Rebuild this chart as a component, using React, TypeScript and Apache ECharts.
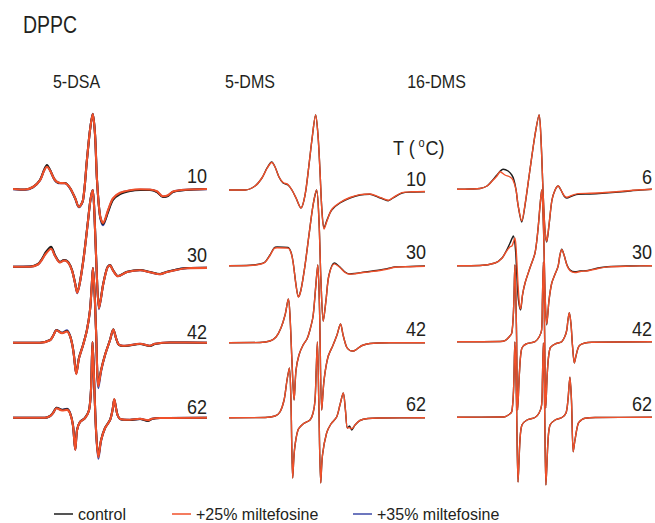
import React, { useEffect, useRef } from "react";
import * as echarts from "echarts";

type P = [number, number][];

// ---------- labels ----------
const FIGURE_TITLE = "DPPC";
const PANELS = ["5-DSA", "5-DMS", "16-DMS"];
const TEMPS = [
  ["10", "30", "42", "62"],
  ["10", "30", "42", "62"],
  ["6", "30", "42", "62"],
];
const SERIES_NAMES = ["control", "+25% miltefosine", "+35% miltefosine"];

// ---------- spectra: [field (G, 0-100 sweep), amplitude (a.u.)] ----------
// 5-DSA
const DSA_10_CTRL: P = [[0,0.3],[6.2,-0.2],[10.3,2.3],[13.9,9.3],[16.0,19.3],[17.5,24.3],[19.1,19.3],[21.6,9.3],[24.2,6.3],[26.8,6.3],[29.4,1.3],[32.0,-8.7],[34.0,-17.7],[36.1,-10.7],[38.1,29.3],[39.7,59.3],[41.1,75.3],[42.3,54.3],[43.3,9.3],[44.8,-25.7],[46.4,-34.7],[49.0,-22.7],[51.5,-10.7],[55.2,-4.7],[60.3,-1.7],[65.5,-0.7],[70.6,-0.7],[74.2,-2.7],[77.3,-7.7],[79.9,-6.7],[82.5,-2.7],[88.7,-0.7],[100,0.3]];
const DSA_10_M25: P = [[0,0.3],[6.2,-0.2],[10.3,2.3],[13.9,9.0],[16.0,18.5],[17.5,22.6],[19.1,18.8],[21.6,9.3],[24.2,6.3],[26.8,6.0],[29.4,1.3],[32.0,-8.7],[34.0,-17.7],[36.1,-10.7],[38.1,29.3],[39.7,59.3],[41.1,75.3],[42.3,54.3],[43.3,9.3],[44.8,-25.7],[46.4,-33.7],[49.0,-20.7],[51.5,-9.0],[55.2,-3.5],[60.3,-0.9],[65.5,0.0],[70.6,-0.2],[74.2,-2.0],[77.3,-7.0],[79.9,-6.0],[82.5,-2.2],[88.7,-0.4],[100,0.3]];
const DSA_10_M35: P = [[0,0.0],[6.2,-0.5],[10.3,2.0],[13.9,9.0],[16.0,18.8],[17.5,23.0],[19.1,19.0],[21.6,9.0],[24.2,6.0],[26.8,6.0],[29.4,1.0],[32.0,-9.0],[34.0,-18.0],[36.1,-11.0],[38.1,29.0],[39.7,59.5],[41.1,75.5],[42.3,54.5],[43.3,9.0],[44.8,-26.5],[46.4,-36.0],[49.0,-21.5],[51.5,-9.8],[55.2,-4.0],[60.3,-1.2],[65.5,-0.4],[70.6,-0.5],[74.2,-2.4],[77.3,-7.4],[79.9,-6.4],[82.5,-2.5],[88.7,-0.6],[100,0.0]];

const DSA_30_CTRL: P = [[0,0],[8.8,0.2],[12.9,2.7],[14.9,7.7],[17.0,14.7],[19.6,20.0],[21.6,11.7],[24.2,4.7],[26.3,6.7],[28.4,4.7],[30.4,-3.3],[32.0,-16.3],[33.1,-25.0],[34.5,-15.3],[36.6,11.7],[38.7,46.7],[39.9,66.7],[41.1,76.7],[42.0,51.7],[43.0,1.7],[44.3,-41.3],[45.4,-30.3],[46.4,-18.3],[48.5,-1.3],[50.0,1.7],[51.5,-3.3],[54.1,-9.3],[58.8,-5.0],[65.5,-3.3],[70.6,-5.3],[75.8,-7.3],[79.4,-5.0],[89.7,-1.3],[100,-1.0]];
const DSA_30_M25: P = [[0,0],[8.8,0.0],[12.9,2.2],[14.9,6.9],[17.0,13.2],[19.6,18.0],[21.6,10.9],[24.2,4.3],[26.3,6.2],[28.4,4.3],[30.4,-3.6],[32.0,-16.8],[33.1,-26.0],[34.5,-15.8],[36.6,11.2],[38.7,46.2],[39.9,66.5],[41.1,76.7],[42.0,51.7],[43.0,1.2],[44.3,-41.8],[45.4,-30.8],[46.4,-18.6],[48.5,-1.6],[50.0,1.4],[51.5,-3.6],[54.1,-9.6],[58.8,-5.3],[65.5,-3.6],[70.6,-5.6],[75.8,-7.6],[79.4,-5.3],[89.7,-1.5],[100,-1.2]];
const DSA_30_M35: P = [[0,0],[8.8,0.1],[12.9,2.4],[14.9,7.2],[17.0,13.8],[19.6,19.0],[21.6,11.2],[24.2,4.5],[26.3,6.4],[28.4,4.5],[30.4,-3.5],[32.0,-16.6],[33.1,-26.5],[34.5,-15.6],[36.6,11.4],[38.7,46.4],[39.9,66.6],[41.1,76.6],[42.0,51.6],[43.0,1.4],[44.3,-42.5],[45.4,-31.0],[46.4,-18.5],[48.5,-1.5],[50.0,1.6],[51.5,-3.5],[54.1,-9.5],[58.8,-5.2],[65.5,-3.5],[70.6,-5.5],[75.8,-7.5],[79.4,-5.2],[89.7,-1.4],[100,-1.1]];

const DSA_42_CTRL: P = [[0,0],[13.9,0],[19.1,2.7],[20.6,6.7],[22.5,12.7],[25.3,9.7],[27.8,11.7],[29.4,6.7],[30.6,-2.3],[31.4,-12.3],[32.6,-30.6],[34.0,-15.3],[36.1,-2.3],[38.1,12.7],[39.7,32.7],[40.6,57.7],[41.2,74.7],[42.0,52.7],[42.8,12.7],[44.0,-42.3],[45.4,-27.3],[47.4,-12.3],[50.0,2.7],[51.7,13.4],[53.1,4.7],[54.6,-2.3],[57.7,-3.3],[65.5,-1.3],[70.6,-3.3],[73.2,-1.3],[80.9,0.2],[100,0]];
const DSA_42_M25: P = [[0,0],[13.9,0],[19.1,2.5],[20.6,6.5],[22.5,12.5],[25.3,9.5],[27.8,11.2],[29.4,6.5],[30.6,-2.5],[31.4,-12.8],[32.6,-31.5],[34.0,-15.8],[36.1,-2.5],[38.1,12.5],[39.7,32.5],[40.6,57.5],[41.2,74.7],[42.0,52.5],[42.8,12.0],[44.0,-43.5],[45.4,-27.8],[47.4,-12.5],[50.0,2.5],[51.7,13.2],[53.1,4.5],[54.6,-2.0],[57.7,-3.0],[65.5,-1.0],[70.6,-3.0],[73.2,-1.0],[80.9,0.2],[100,0]];
const DSA_42_M35: P = [[0,0],[13.9,0],[19.1,2.6],[20.6,6.6],[22.5,12.6],[25.3,10.0],[27.8,12.4],[29.4,6.9],[30.6,-2.4],[31.4,-12.6],[32.6,-31.0],[34.0,-15.6],[36.1,-2.4],[38.1,12.6],[39.7,32.6],[40.6,57.6],[41.2,74.6],[42.0,52.6],[42.8,12.4],[44.0,-45.5],[45.4,-28.5],[47.4,-12.8],[50.0,2.6],[51.7,13.0],[53.1,4.6],[54.6,-2.1],[57.7,-3.1],[65.5,-1.1],[70.6,-3.1],[73.2,-1.1],[80.9,0.2],[100,0]];

const DSA_62_CTRL: P = [[0,0],[16.5,0],[19.1,1.7],[20.6,4.7],[22.5,10.0],[25.3,7.7],[27.8,8.7],[29.4,4.7],[30.9,-7.3],[32.1,-31.6],[33.0,-12.3],[34.5,-4.3],[37.1,-0.3],[39.2,7.7],[40.2,27.7],[41.0,75.7],[41.8,37.7],[42.8,-12.3],[44.0,-38.0],[45.4,-22.3],[47.4,-10.3],[50.0,-2.3],[51.3,7.7],[52.2,18.4],[53.1,9.7],[53.9,2.7],[55.2,-1.3],[60.3,-2.3],[65.5,-1.3],[69.6,-3.3],[71.6,-1.3],[75.8,-0.3],[100,0]];
const DSA_62_M25: P = [[0,0],[16.5,0],[19.1,1.5],[20.6,4.5],[22.5,9.5],[25.3,7.2],[27.8,7.8],[29.4,4.3],[30.9,-7.6],[32.1,-32.2],[33.0,-12.6],[34.5,-4.5],[37.1,-0.5],[39.2,7.5],[40.2,27.5],[41.0,75.7],[41.8,37.5],[42.8,-12.6],[44.0,-39.5],[45.4,-22.6],[47.4,-10.5],[50.0,-2.5],[51.3,7.5],[52.2,18.6],[53.1,9.5],[53.9,2.5],[55.2,-1.2],[60.3,-2.0],[65.5,-1.1],[69.6,-2.6],[71.6,-1.1],[75.8,-0.3],[100,0]];
const DSA_62_M35: P = [[0,0],[16.5,0],[19.1,1.6],[20.6,4.6],[22.5,9.8],[25.3,7.8],[27.8,9.0],[29.4,4.8],[30.9,-7.5],[32.1,-32.0],[33.0,-12.5],[34.5,-4.4],[37.1,-0.4],[39.2,7.6],[40.2,27.6],[41.0,75.6],[41.8,37.6],[42.8,-12.5],[44.0,-41.0],[45.4,-23.0],[47.4,-10.6],[50.0,-2.4],[51.3,7.6],[52.2,18.0],[53.1,9.6],[53.9,2.6],[55.2,-1.2],[60.3,-2.1],[65.5,-1.2],[69.6,-2.9],[71.6,-1.2],[75.8,-0.3],[100,0]];

// 5-DMS
const DMS5_10_CTRL: P = [[0,0],[8.2,0],[13.3,4],[16.8,12],[19.4,22],[21.8,28],[23.5,23],[25.5,13],[27.6,7],[30.1,5],[32.1,0],[34.2,-8],[36.7,-18],[38.8,-5],[40.8,25],[42.3,50],[44.2,75],[45.4,55],[46.4,20],[47.4,-20],[48.5,-38],[50.0,-30],[52.4,-20],[56.6,-13],[61.7,-8],[66.8,-5],[71.9,-4.3],[76.0,-7],[78.6,-9],[81.3,-10.7],[83.7,-8],[88.3,-3],[93.4,-2],[100,-1.7]];
const DMS5_10_M25: P = [[0,0],[8.2,0],[13.3,4],[16.8,12],[19.4,21.5],[21.8,27.5],[23.5,23],[25.5,13],[27.6,7.5],[30.1,5.5],[32.1,0],[34.2,-8],[36.7,-18],[38.8,-5],[40.8,25],[42.3,50],[44.2,75],[45.4,55],[46.4,20],[47.4,-21],[48.5,-39],[50.0,-31],[52.4,-19.5],[56.6,-12.5],[61.7,-7.5],[66.8,-4.6],[71.9,-4.0],[76.0,-6.6],[78.6,-8.6],[81.3,-10.3],[83.7,-7.6],[88.3,-2.6],[93.4,-1.8],[100,-1.5]];
const DMS5_30_CTRL: P = [[0,0],[10.7,0.4],[15.8,1.7],[18.4,3.7],[20.9,10.7],[23.0,17.7],[24.5,18.7],[30.1,18.2],[31.6,13.7],[32.7,3.7],[34.2,-19.3],[35.4,-31],[36.7,-24.3],[38.8,0.7],[40.8,30.7],[42.9,60.7],[44.7,75.7],[45.9,45.7],[46.9,-14.3],[48.1,-55.3],[49.5,-34.3],[51.0,-9.3],[53.8,2.7],[56.6,-1.3],[59.2,-6.3],[61.7,-8.3],[64.3,-7.8],[69.4,-6.3],[77.0,-4.3],[81.1,-2.8],[84.7,-1.3],[92.3,-0.8],[100,-0.3]];
const DMS5_30_M25: P = [[0,0],[10.7,0.2],[15.8,1.4],[18.4,3.4],[20.9,10.2],[23.0,17.2],[24.5,18.0],[30.1,17.6],[31.6,13.2],[32.7,3.4],[34.2,-19.6],[35.4,-31.3],[36.7,-24.6],[38.8,0.5],[40.8,30.5],[42.9,60.5],[44.7,75.7],[45.9,45.5],[46.9,-14.6],[48.1,-55.6],[49.5,-34.6],[51.0,-9.8],[53.8,1.8],[56.6,-1.8],[59.2,-6.8],[61.7,-8.6],[64.3,-8.0],[69.4,-6.6],[77.0,-4.8],[81.1,-3.2],[84.7,-1.6],[92.3,-1.0],[100,-0.5]];
const DMS5_42_CTRL: P = [[0,0],[15.8,0.2],[20.9,1.7],[24.0,5.7],[26.5,14.7],[28.6,27.7],[30.3,43.7],[31.1,27.7],[32.1,-17.3],[33.2,-57.3],[34.2,-27.3],[35.7,-12.3],[37.8,-2.3],[39.8,3.7],[41.3,12.7],[42.9,26.7],[44.1,52.7],[45.3,77.7],[46.2,32.7],[47.3,-67.3],[48.5,-37.3],[50.5,-14.3],[53.1,-2.3],[55.1,7.7],[56.9,18.7],[58.2,7.7],[60.0,-4.3],[61.7,-7.8],[63.3,-8.3],[65.3,-6.3],[67.9,-2.8],[71.9,-0.8],[82.1,-0.1],[100,0]];
const DMS5_62_CTRL: P = [[0,0],[18.4,0.2],[23.5,1.7],[26.0,5.7],[28.1,17.7],[29.6,37.7],[30.8,49.7],[31.6,17.7],[32.5,-60.3],[33.4,-32.3],[35.2,-12.3],[37.8,-6.3],[41.3,-2.3],[42.9,4.7],[43.9,17.7],[44.5,47.7],[45.1,75.7],[45.8,17.7],[46.8,-65.3],[47.7,-37.3],[49.8,-15.3],[52.0,-6.3],[54.9,0.7],[56.6,12.7],[58.3,24.7],[59.4,7.7],[60.4,-10.3],[61.5,-8.3],[62.6,-12.3],[64.3,-7.3],[66.8,-2.8],[70.9,-0.8],[77.0,-0.3],[100,0]];
const DMS5_62_M25: P = [[0,0],[18.4,0.2],[23.5,1.7],[26.0,5.7],[28.1,17.7],[29.6,37.7],[30.8,49.7],[31.6,17.7],[32.5,-60.3],[33.4,-32.3],[35.2,-12.3],[37.8,-6.3],[41.3,-2.3],[42.9,4.7],[43.9,17.7],[44.5,47.7],[45.1,75.7],[45.8,17.7],[46.8,-65.3],[47.7,-37.3],[49.8,-15.3],[52.0,-6.3],[54.9,0.7],[56.6,12.7],[58.3,24.7],[59.4,7.7],[60.4,-10.3],[61.5,-10.0],[62.6,-11.0],[64.3,-7.3],[66.8,-2.8],[70.9,-0.8],[77.0,-0.3],[100,0]];

// 16-DMS
const DMS16_6_CTRL: P = [[0,0],[6.7,0.3],[11.8,0.8],[15.4,3.3],[17.9,8.3],[20.5,14.3],[23.7,20.0],[26.2,18.3],[28.1,14.3],[29.2,9.3],[30.3,-0.7],[31.3,-15.7],[33.2,-32.7],[34.9,-15.7],[37.4,19.3],[40.0,54.3],[42.1,74.3],[43.1,49.3],[44.1,-0.7],[45.1,-40.7],[46.0,-52.7],[47.2,-35.7],[48.7,-10.7],[50.3,-0.7],[51.9,3.3],[53.3,-0.7],[54.9,-6.7],[56.3,-8.7],[59.0,-6.7],[62.1,-5.0],[68.2,-4.7],[74.4,-4.0],[84.6,-2.4],[93.8,-0.7],[100,0]];
const DMS16_6_M25: P = [[0,0],[6.7,0.3],[11.8,0.8],[15.4,3.3],[17.9,8.0],[20.5,13.3],[22.1,17.6],[24.6,14.3],[27.2,12.3],[28.7,9.3],[30.3,-0.7],[31.3,-15.7],[33.2,-31.5],[34.9,-15.0],[37.4,19.3],[40.0,54.3],[42.1,74.3],[43.1,49.3],[44.1,-0.7],[45.1,-40.7],[46.0,-52.0],[47.2,-35.0],[48.7,-10.7],[50.3,-0.7],[51.9,3.3],[53.3,-0.7],[54.9,-6.2],[56.3,-8.0],[59.0,-6.0],[62.1,-4.3],[68.2,-4.0],[74.4,-3.5],[84.6,-2.0],[93.8,-0.5],[100,0]];
const DMS16_30_CTRL: P = [[0,0],[11.8,0.2],[19.5,2.7],[23.1,7.7],[25.5,15.7],[27.2,22.7],[28.9,29.7],[30.0,15.7],[30.8,-14.3],[31.5,-34.3],[32.6,-44.3],[33.6,-29.3],[34.9,-17.3],[37.4,-2.3],[40.0,12.7],[41.5,35.7],[42.6,60.7],[43.4,75.7],[44.4,35.7],[45.1,-24.3],[46.0,-59.3],[47.2,-34.3],[48.6,-17.3],[50.3,-8.3],[51.8,-1.0],[52.8,10.7],[53.7,16.4],[54.9,10.7],[56.4,0.7],[58.0,-4.3],[60.5,-6.0],[63.1,-5.3],[67.2,-4.8],[72.3,-2.3],[77.4,-1.0],[88.7,-0.3],[100,0]];
const DMS16_30_M25: P = [[0,0],[11.8,0.2],[19.5,2.7],[23.1,7.5],[25.1,13.7],[27.2,19.0],[28.2,19.7],[29.7,27.7],[30.5,10.7],[31.3,-19.3],[32.0,-38.0],[32.6,-43.0],[33.6,-29.0],[34.9,-17.3],[37.4,-2.3],[40.0,12.7],[41.5,35.7],[42.6,60.7],[43.4,75.7],[44.4,35.7],[45.1,-24.3],[46.0,-58.5],[47.2,-34.3],[48.6,-17.3],[50.3,-8.3],[51.8,-1.0],[52.8,10.7],[53.7,16.0],[54.9,10.7],[56.4,0.2],[58.0,-5.0],[60.5,-6.8],[63.1,-5.8],[67.2,-5.0],[72.3,-2.8],[77.4,-1.2],[88.7,-0.4],[100,0]];
const DMS16_42_CTRL: P = [[0,0],[22.1,0.2],[24.6,1.0],[26.7,4.7],[28.1,8.7],[29.0,31.7],[29.7,76.7],[30.5,11.7],[31.1,-68.3],[32.1,-28.3],[33.2,-6.6],[35.4,-2.3],[40.0,0],[42.1,4.7],[43.4,11.7],[43.8,41.7],[44.3,79.7],[44.9,11.7],[45.5,-66.3],[46.4,-28.3],[47.7,-6.6],[50.3,-2.3],[53.7,0],[55.4,5.7],[56.3,11.7],[56.9,21.7],[57.6,29.0],[58.5,16.7],[59.2,-3.3],[60.2,-21.3],[61.0,-14.3],[62.1,-6.3],[63.1,-3.3],[65.6,-1.3],[69.1,-0.6],[100,0]];
const DMS16_62_CTRL: P = [[0,0],[22.1,0.3],[24.6,0.6],[26.7,2.8],[28.1,5.6],[29.0,27.3],[29.7,75.3],[30.5,17.3],[31.3,-64.7],[32.3,-22.7],[33.3,-7.7],[35.9,-2.7],[40.0,-0.2],[42.1,4.3],[43.4,12.3],[43.8,37.3],[44.3,74.3],[44.9,17.3],[45.6,-67.7],[46.7,-22.7],[47.7,-7.7],[50.3,-2.7],[53.8,-0.2],[55.9,4.3],[56.9,17.3],[57.9,40.0],[58.7,17.3],[59.6,-34.4],[60.5,-22.7],[62.2,-6.0],[64.1,-2.2],[65.6,-1.0],[70.8,-0.2],[100,0]];

// spectra table: [column, row, control, +25%, +35% (null = not shown)]
const SPECTRA: [number, number, P, P, P | null][] = [
  [0, 0, DSA_10_CTRL, DSA_10_M25, DSA_10_M35],
  [0, 1, DSA_30_CTRL, DSA_30_M25, DSA_30_M35],
  [0, 2, DSA_42_CTRL, DSA_42_M25, DSA_42_M35],
  [0, 3, DSA_62_CTRL, DSA_62_M25, DSA_62_M35],
  [1, 0, DMS5_10_CTRL, DMS5_10_M25, null],
  [1, 1, DMS5_30_CTRL, DMS5_30_M25, null],
  [1, 2, DMS5_42_CTRL, DMS5_42_CTRL, null],
  [1, 3, DMS5_62_CTRL, DMS5_62_M25, null],
  [2, 0, DMS16_6_CTRL, DMS16_6_M25, null],
  [2, 1, DMS16_30_CTRL, DMS16_30_M25, null],
  [2, 2, DMS16_42_CTRL, DMS16_42_CTRL, null],
  [2, 3, DMS16_62_CTRL, DMS16_62_CTRL, null],
];

// ---------- layout / style ----------
const COLORS = ["#1c1c1c", "#f0502a", "#3d4aa8"];
const TEXT = "#231f20";
const FONT = '"Liberation Sans", Arial, sans-serif';
const COL_BOX = [
  { left: 13, width: 194 },
  { left: 229, width: 196 },
  { left: 457, width: 195 },
];
const GRID_TOP = 100;
const GRID_H = 400;
const BASE_PX = [
  [189.3, 266.7, 342.7, 417.7],
  [190, 265.7, 342.7, 417.7],
  [189.3, 265.7, 341.7, 417.3],
];
const TITLE_CX = [76.5, 250, 436.5];
const LABEL_RIGHT = [207, 426, 652];
const LABEL_CY = [
  [175.8, 255, 332, 407],
  [178.5, 252, 329, 404],
  [176.5, 252, 329, 404],
];
const LEGEND_LEFT = [54, 172, 353];

export default function App() {
  const ref = useRef<HTMLDivElement>(null);
  useEffect(() => {
    if (!ref.current) return;
    const chart = echarts.init(ref.current, undefined, { renderer: "svg" });

    const grids = COL_BOX.map((b) => ({ left: b.left, width: b.width, top: GRID_TOP, height: GRID_H, containLabel: false }));
    const xAxes = COL_BOX.map((_, i) => ({ type: "value", gridIndex: i, min: 0, max: 100, show: false }));
    const yAxes = COL_BOX.map((_, i) => ({ type: "value", gridIndex: i, min: -GRID_H, max: 0, show: false }));

    const series: any[] = [];
    const mk = (name: string, ci: number, c: number, r: number, pts: P, width: number, z: number) => ({
      type: "line",
      name,
      xAxisIndex: c,
      yAxisIndex: c,
      data: pts.map(([g, a]) => [g, a - (BASE_PX[c][r] - GRID_TOP)]),
      symbol: "none",
      showSymbol: false,
      smooth: 0.3,
      clip: false,
      silent: true,
      z,
      lineStyle: { color: COLORS[ci], width },
      itemStyle: { color: COLORS[ci] },
    });
    SPECTRA.forEach(([c, r, ctrl, m25, m35]) => {
      const w = c === 0 ? 2.1 : 1.4;
      if (m35) series.push(mk(SERIES_NAMES[2], 2, c, r, m35, w, 2));
      series.push(mk(SERIES_NAMES[0], 0, c, r, ctrl, w, 3));
      series.push(mk(SERIES_NAMES[1], 1, c, r, m25, w, 4));
    });

    const graphic: any[] = [];
    graphic.push({
      type: "text", x: 23, y: 25, scaleY: 1.2,
      style: { text: FIGURE_TITLE, x: 0, y: 0, fill: TEXT, fontSize: 19.5, fontFamily: FONT, align: "left", verticalAlign: "middle" },
    });
    PANELS.forEach((p, i) => {
      graphic.push({
        type: "text", x: TITLE_CX[i], y: 81.7, scaleY: 1.17,
        style: { text: p, x: 0, y: 0, fill: TEXT, fontSize: 16, fontFamily: FONT, align: "center", verticalAlign: "middle" },
      });
    });
    TEMPS.forEach((col, c) => {
      col.forEach((t, r) => {
        graphic.push({
          type: "text", x: LABEL_RIGHT[c], y: LABEL_CY[c][r], scaleY: 1.16,
          style: { text: t, x: 0, y: 0, fill: TEXT, fontSize: 18, fontFamily: FONT, align: "right", verticalAlign: "middle" },
        });
      });
    });
    // T (°C) axis caption with superscript o
    graphic.push({
      type: "text", x: 393, y: 147.5, scaleY: 1.16,
      style: { text: "T (", x: 0, y: 0, fill: TEXT, fontSize: 18, fontFamily: FONT, align: "left", verticalAlign: "middle" },
    });
    graphic.push({
      type: "text", x: 418.5, y: 142.5, scaleY: 1.16,
      style: { text: "o", x: 0, y: 0, fill: TEXT, fontSize: 11, fontFamily: FONT, align: "left", verticalAlign: "middle" },
    });
    graphic.push({
      type: "text", x: 425.5, y: 147.5, scaleY: 1.16,
      style: { text: "C)", x: 0, y: 0, fill: TEXT, fontSize: 18, fontFamily: FONT, align: "left", verticalAlign: "middle" },
    });

    const legend = SERIES_NAMES.map((n, i) => ({
      data: [n],
      left: LEGEND_LEFT[i],
      top: 506,
      padding: 0,
      itemGap: 0,
      itemWidth: 19,
      itemHeight: 1.5,
      icon: "rect",
      selectedMode: false,
      textStyle: { fontSize: 16, fontFamily: FONT, color: TEXT, padding: [0, 0, 0, 0] },
    }));

    chart.setOption({
      animation: false,
      backgroundColor: "#ffffff",
      grid: grids,
      xAxis: xAxes,
      yAxis: yAxes,
      legend,
      graphic,
      series,
    });
    return () => chart.dispose();
  }, []);
  return <div ref={ref} style={{ position: "absolute", left: 0, top: 0, width: 655, height: 523 }} />;
}
